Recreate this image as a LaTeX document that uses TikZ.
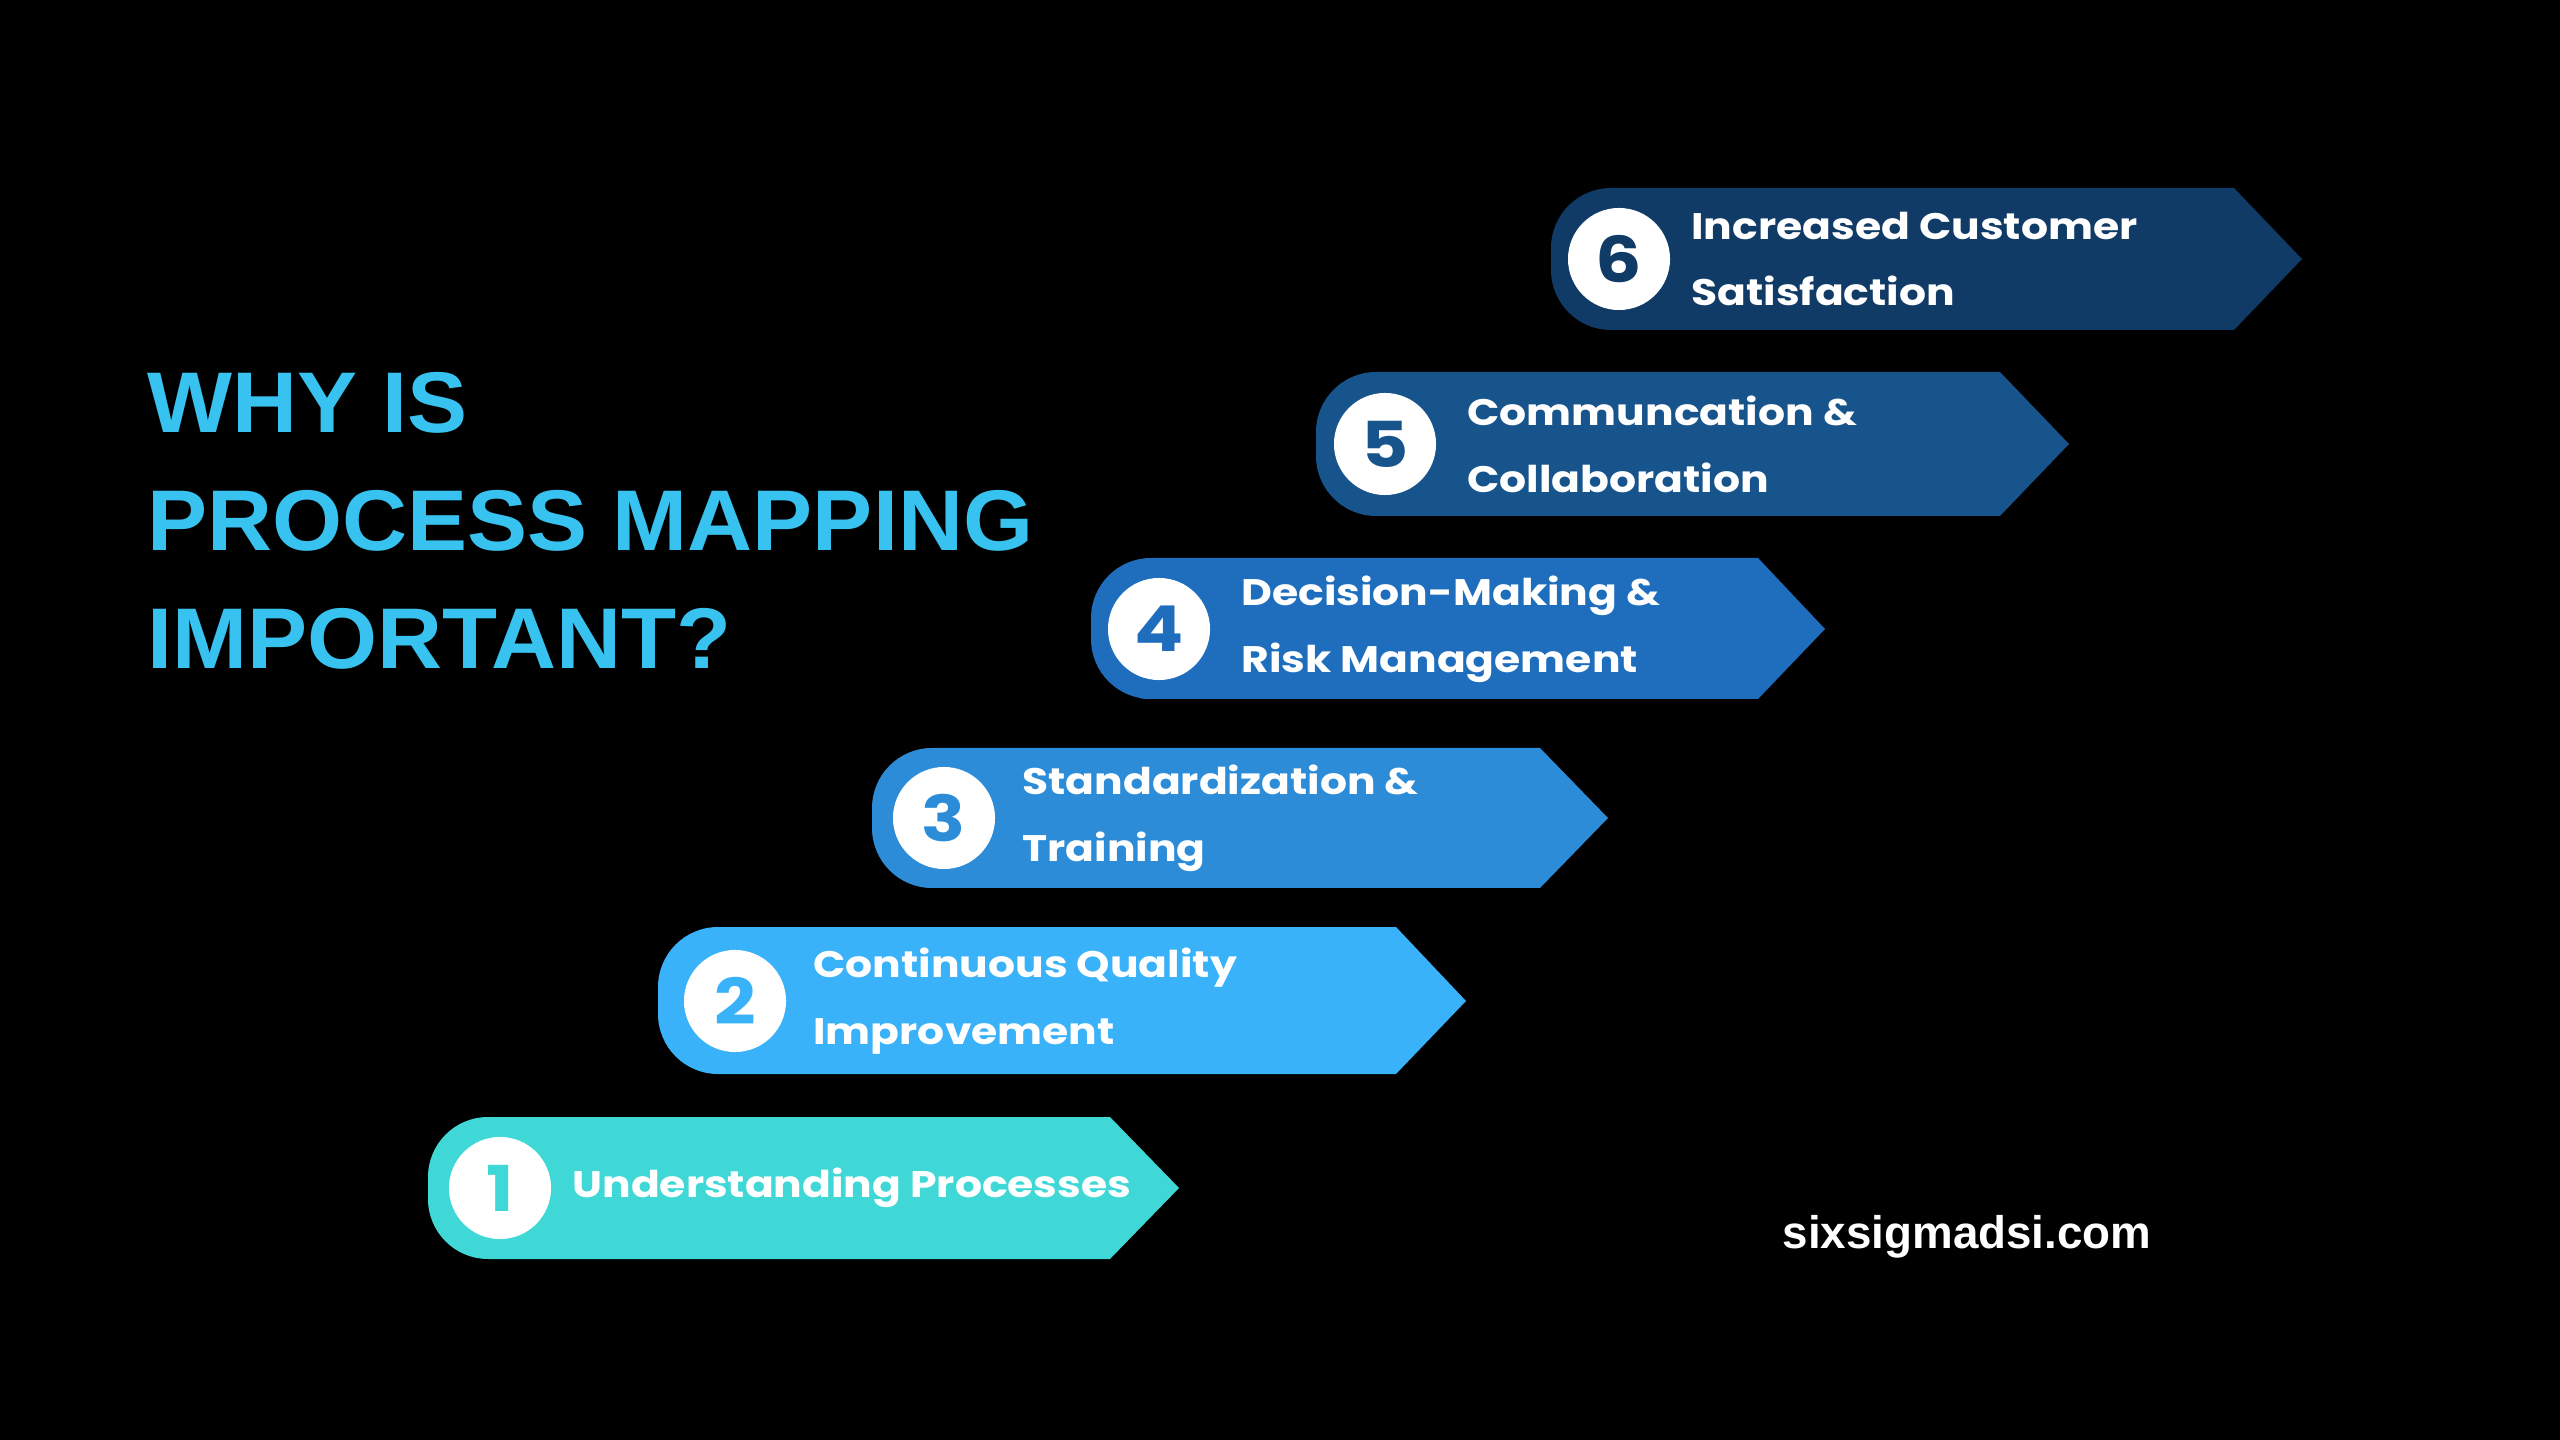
\documentclass[tikz,border=0pt]{standalone}
\usepackage{fontspec}
\setmainfont{Poppins}[FakeStretch=1.15]
\newfontfamily\headfont{Liberation Sans}[FakeStretch=1.045]
\newfontfamily\sitefont{Liberation Sans}
\usetikzlibrary{positioning}

\definecolor{bandone}{HTML}{40D8D6}
\definecolor{bandtwo}{HTML}{3AB2FA}
\definecolor{bandthree}{HTML}{2D8CD7}
\definecolor{bandfour}{HTML}{1F6EBE}
\definecolor{bandfive}{HTML}{18548C}
\definecolor{bandsix}{HTML}{0F3B66}
\definecolor{titleblue}{HTML}{38C2F0}

\begin{document}
\begin{tikzpicture}[
		  x=0.01cm, y=-0.01cm,
		  numcirc/.style={
		    circle,
		    fill=white,
		    minimum size=1.02cm,
		    inner sep=0pt,
		    font=\fontsize{18}{18}\selectfont\bfseries
		  },
		  bandtext/.style={
		    inner sep=0pt,
		    align=left,
		    text=white,
		    font=\fontsize{10.5}{19}\selectfont\bfseries
		  },
		  titletext/.style={
		    inner sep=0pt,
		    align=left,
		    text=titleblue,
		    font=\headfont\fontsize{24.5}{33.5}\selectfont\bfseries
		  },
		  sitetext/.style={
		    inner sep=0pt,
		    text=white,
		    font=\sitefont\fontsize{13}{15}\selectfont\bfseries
		  },
		  bandshape/.style={rounded corners=0.6cm}
		]

		% --- page ---
		\fill[black] (0,0) rectangle (2560,1440);
		\useasboundingbox (0,0) rectangle (2560,1440);

		% --- heading ---
		\node[titletext, anchor=north west] (title) at (147,372) {WHY IS\\PROCESS MAPPING\\IMPORTANT?};

		% --- bands, bottom to top ---
		\fill[bandone] (1110,1117) [bandshape] -- (428,1117) -- (428,1259) -- (600,1259) [sharp corners] -- (1110,1259) -- (1179,1188) -- cycle;
		\fill[bandtwo] (1396,927) [bandshape] -- (658,927) -- (658,1074) -- (800,1074) [sharp corners] -- (1396,1074) -- (1466,1001) -- cycle;
		\fill[bandthree] (1540,748) [bandshape] -- (872,748) -- (872,888) -- (1000,888) [sharp corners] -- (1540,888) -- (1608,818) -- cycle;
		\fill[bandfour] (1758,558) [bandshape] -- (1091,558) -- (1091,699) -- (1200,699) [sharp corners] -- (1758,699) -- (1825,629) -- cycle;
		\fill[bandfive] (2000,372) [bandshape] -- (1316,372) -- (1316,516) -- (1450,516) [sharp corners] -- (2000,516) -- (2069,444) -- cycle;
		\fill[bandsix] (2234,188) [bandshape] -- (1551,188) -- (1551,330) -- (1700,330) [sharp corners] -- (2234,330) -- (2302,259) -- cycle;

		% --- numbers and labels ---
		\node[numcirc, text=bandone] (num1) at (500,1188) {1};
		\node[bandtext, right=0.2cm of num1] (txt1) {Understanding Processes};

		\node[numcirc, text=bandtwo] (num2) at (735,1001) {2};
		\node[bandtext, right=0.26cm of num2] (txt2) {Continuous Quality\\Improvement};

		\node[numcirc, text=bandthree] (num3) at (944,818) {3};
		\node[bandtext, right=0.26cm of num3] (txt3) {Standardization \&\\Training};

		\node[numcirc, text=bandfour] (num4) at (1159,629) {4};
		\node[bandtext, right=0.3cm of num4] (txt4) {Decision-Making \&\\Risk Management};

		\node[numcirc, text=bandfive] (num5) at (1385,444) {5};
		\node[bandtext, right=0.3cm of num5] (txt5) {Communcation \&\\Collaboration};

		\node[numcirc, text=bandsix] (num6) at (1619,259) {6};
		\node[bandtext, right=0.2cm of num6] (txt6) {Increased Customer\\Satisfaction};

		% --- footer ---
		\node[sitetext, anchor=base] (site) at (1967,1248) {sixsigmadsi.com};

		\end{tikzpicture}
\end{document}
